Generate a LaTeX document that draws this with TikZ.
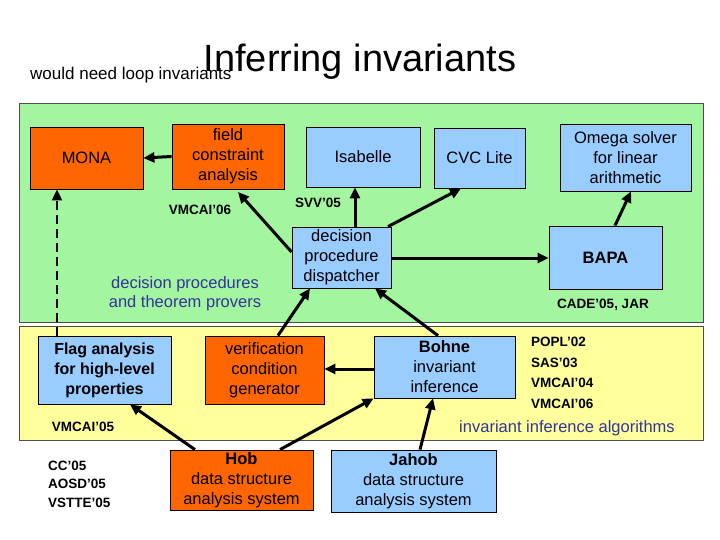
\documentclass[tikz,border=0pt]{standalone}
\usepackage{fontspec}
\setmainfont{Liberation Sans}
\usetikzlibrary{arrows.meta}
\definecolor{org}{HTML}{FF6600}
\definecolor{blu}{HTML}{99CCFF}
\definecolor{grn}{HTML}{A4F5A0}
\definecolor{yel}{HTML}{FFFF9C}
\definecolor{txtb}{HTML}{333399}
\begin{document}
\begin{tikzpicture}[x=1pt,y=-1pt,
  box/.style={draw=black,line width=0.8pt,align=center,font=\fontsize{16.5}{20}\selectfont,inner sep=0pt},
  ob/.style={box,fill=org},
  bb/.style={box,fill=blu},
  arr/.style={-{Triangle[length=11pt,width=10pt]},line width=3pt},
  pub/.style={font=\bfseries\fontsize{13.5}{15}\selectfont,inner sep=0pt},
  grp/.style={text=txtb,font=\fontsize{16.5}{19}\selectfont,align=center,inner sep=0pt}]
\useasboundingbox (0,0) rectangle (720,540);
\fill[white] (0,0) rectangle (720,540);
\node[draw=black!70,fill=grn,minimum width=684pt,minimum height=219pt,inner sep=0pt] (gp) at (361,212.5) {};
\node[draw=black!70,fill=yel,minimum width=684pt,minimum height=114pt,inner sep=0pt] (yp) at (361,383) {};
\node[font=\fontsize{17}{19}\selectfont,inner sep=0pt,anchor=west] (need) at (30,75) {would need loop invariants};
\node[font=\fontsize{38}{40}\selectfont,inner sep=0pt] (title) at (360,62) {Inferring invariants};
% boxes
\node[ob,minimum width=113pt,minimum height=62pt] (mona) at (86.5,158) {MONA};
\node[ob,minimum width=112pt,minimum height=65pt] (fca) at (228,156.5) {field\\constraint\\analysis};
\node[bb,minimum width=114pt,minimum height=60pt] (isa) at (363,157) {Isabelle};
\node[bb,minimum width=91pt,minimum height=60pt] (cvc) at (479.5,158) {CVC Lite};
\node[bb,minimum width=131pt,minimum height=67pt] (omg) at (625.5,157.5) {Omega solver\\for linear\\arithmetic};
\node[bb,minimum width=99pt,minimum height=61pt] (dpd) at (341.5,257.5) {decision\\procedure\\dispatcher};
\node[bb,minimum width=113pt,minimum height=63pt,font=\bfseries\fontsize{16.5}{20}\selectfont] (bapa) at (605.5,257.5) {BAPA};
\node[bb,minimum width=133pt,minimum height=68pt,font=\bfseries\fontsize{16}{20}\selectfont] (flag) at (104.5,370) {Flag analysis\\for high-level\\properties};
\node[ob,minimum width=119pt,minimum height=68pt] (vcg) at (264.5,370) {verification\\condition\\generator};
\node[bb,minimum width=141pt,minimum height=62pt] (bohne) at (444.5,367) {\textbf{Bohne}\\invariant\\inference};
\node[ob,minimum width=143pt,minimum height=60pt] (hob) at (241.5,480) {\textbf{Hob}\\data structure\\analysis system};
\node[bb,minimum width=165pt,minimum height=62pt] (jahob) at (413.5,481) {\textbf{Jahob}\\data structure\\analysis system};
% labels
\node[pub] (l1) at (200,210) {VMCAI'06};
\node[pub] (l2) at (318,203) {SVV'05};
\node[grp] (l3) at (185,294) {decision procedures\\and theorem provers};
\node[pub] (l4) at (603,305) {CADE'05, JAR};
\node[pub,anchor=west,align=left,font=\bfseries\fontsize{13.5}{20.5}\selectfont] (l5) at (531,373) {POPL'02\\SAS'03\\VMCAI'04\\VMCAI'06};
\node[pub] (l6) at (83,427) {VMCAI'05};
\node[grp] (l7) at (567,428) {invariant inference algorithms};
\node[pub,anchor=west,align=left,font=\bfseries\fontsize{13.5}{18.5}\selectfont] (l8) at (48,484) {CC'05\\AOSD'05\\VSTTE'05};
% arrows
\draw[arr] (dpd.west|-0,252) -- (238,192);
\draw[arr] (fca.west) -- (mona.east);
\draw[arr] (dpd.north-|355,0) -- (isa.south-|355,0);
\draw[arr] (dpd.north-|388,0) -- (cvc.south-|461,0);
\draw[arr] (dpd.east|-0,258) -- (bapa.west|-0,258);
\draw[arr] (bapa.north-|615,0) -- (omg.south-|631,0);
\draw[arr] (vcg.north-|278,0) -- (dpd.south-|310,0);
\draw[arr] (bohne.north-|438,0) -- (dpd.south-|375,0);
\draw[arr] (bohne.west|-0,369) -- (vcg.east|-0,369);
\draw[arr] (hob.north-|195,0) -- (flag.south-|130,0);
\draw[arr] (hob.north-|280,0) -- (bohne.south west);
\draw[arr] (jahob.north-|420,0) -- (bohne.south-|433,0);
\draw[arr,dash pattern=on 9pt off 5pt,line width=2pt] (flag.north-|57,0) -- (mona.south-|57,0);
\end{tikzpicture}
\end{document}
